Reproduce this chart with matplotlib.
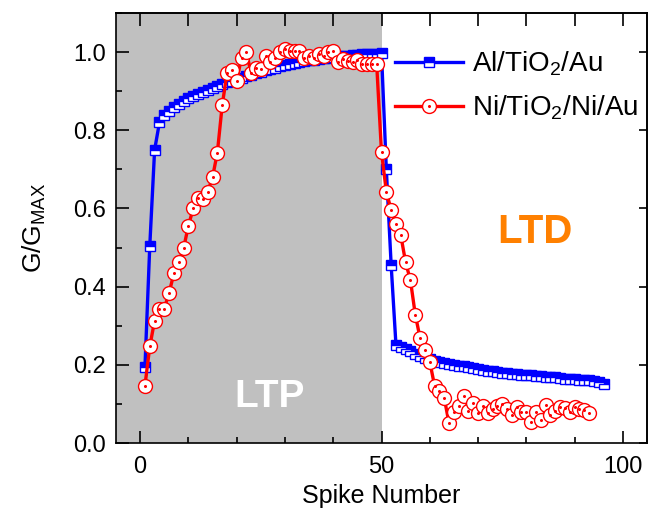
import numpy as np
import matplotlib
matplotlib.use("Agg")
import matplotlib.pyplot as plt
from matplotlib.legend_handler import HandlerTuple
from matplotlib.ticker import MultipleLocator

plt.rcParams['font.family'] = ['Liberation Sans', 'DejaVu Sans']
plt.rcParams['mathtext.fontset'] = 'custom'
plt.rcParams['mathtext.rm'] = 'Liberation Sans'
plt.rcParams['mathtext.it'] = 'Liberation Sans'

# --- data ---
al_label = "Al/TiO$_2$/Au"
ni_label = "Ni/TiO$_2$/Ni/Au"

al_g = [0.195, 0.505, 0.75, 0.82, 0.84, 0.85, 0.86, 0.868, 0.875, 0.882,
        0.888, 0.893, 0.898, 0.903, 0.908, 0.914, 0.919, 0.923, 0.927, 0.93,
        0.934, 0.938, 0.942, 0.946, 0.95, 0.954, 0.957, 0.96, 0.964, 0.967,
        0.97, 0.972, 0.974, 0.977, 0.979, 0.981, 0.983, 0.985, 0.986, 0.988,
        0.989, 0.99, 0.991, 0.992, 0.993, 0.994, 0.995, 0.996, 0.996, 0.997,
        0.70, 0.455,
        0.25, 0.245, 0.24, 0.235, 0.228, 0.223, 0.218, 0.214, 0.21, 0.207,
        0.205, 0.203, 0.2, 0.198, 0.196, 0.194, 0.191, 0.189, 0.187, 0.185,
        0.183, 0.182, 0.18, 0.178, 0.177, 0.176, 0.175, 0.174, 0.173, 0.172,
        0.171, 0.17, 0.169, 0.168, 0.167, 0.165, 0.164, 0.163, 0.162, 0.161,
        0.16, 0.158, 0.156, 0.15]

ni_g = [0.147, 0.247, 0.313, 0.344, 0.344, 0.384, 0.434, 0.462, 0.498, 0.556,
        0.60, 0.627, 0.623, 0.642, 0.68, 0.743, 0.864, 0.946, 0.955, 0.926,
        0.986, 1.0, 0.946, 0.96, 0.958, 0.99, 0.975, 0.984, 0.999, 1.008,
        1.003, 1.002, 1.003, 0.986, 0.99, 0.984, 0.995, 0.99, 1.0, 1.003,
        0.975, 0.982, 0.978, 0.975, 0.98, 0.969, 0.969, 0.97, 0.969,
        0.744, 0.643, 0.596, 0.559, 0.531, 0.462, 0.416, 0.328, 0.268, 0.237,
        0.208, 0.146, 0.132, 0.115, 0.05, 0.08, 0.095, 0.119, 0.082, 0.102,
        0.078, 0.095, 0.078, 0.086, 0.095, 0.1, 0.086, 0.072, 0.093, 0.08,
        0.08, 0.055, 0.08, 0.059, 0.097, 0.072, 0.082, 0.093, 0.089, 0.08,
        0.093, 0.086, 0.085, 0.078]

al_spike = np.arange(1, len(al_g) + 1)
ni_spike = np.arange(1, len(ni_g) + 1)
ltp_end = 50

fig = plt.figure(figsize=(6.48, 5.11), dpi=100)
ax = fig.add_axes([116 / 648, 1 - 443 / 511, 531 / 648, 430 / 511])

ax.axvspan(-5, ltp_end, color='#c0c0c0', lw=0, zorder=0)

blue_line, = ax.plot(al_spike, al_g, color='#0000ff', lw=2.4, marker='s',
                     ms=7.2, fillstyle='top', mfc='#0000ff', mfcalt='white',
                     mec='#0000ff', mew=1.0, zorder=2)
red_line, = ax.plot(ni_spike, ni_g, color='#ff0000', lw=2.4, marker='o',
                    ms=10, mfc='white', mec='#ff0000', mew=1.0, zorder=3)
red_dots, = ax.plot(ni_spike, ni_g, ls='none', marker='o', ms=1.2,
                    color='#ff0000', zorder=4)

ax.set_xlim(-5, 105)
ax.set_ylim(0, 1.1)
ax.xaxis.set_major_locator(MultipleLocator(50))
ax.xaxis.set_minor_locator(MultipleLocator(10))
ax.yaxis.set_major_locator(MultipleLocator(0.2))
ax.yaxis.set_minor_locator(MultipleLocator(0.1))
ax.yaxis.set_major_formatter(matplotlib.ticker.FormatStrFormatter('%.1f'))
ax.tick_params(which='major', direction='in', length=9, width=1.2,
               labelsize=17, pad=7)
ax.tick_params(which='minor', direction='in', length=4.5, width=1.2)
ax.tick_params(axis='x', pad=9)

# top: every 10, all the same length; right: majors only, shorter
top = ax.secondary_xaxis('top')
top.set_xticks(np.arange(0, 101, 10))
top.tick_params(direction='in', length=9, width=1.2, labeltop=False)
top.spines['top'].set_linewidth(1.2)

right = ax.secondary_yaxis('right')
right.set_yticks(np.arange(0, 1.01, 0.2))
right.tick_params(direction='in', length=6, width=1.2, labelright=False)
right.spines['right'].set_linewidth(1.2)

for s in ax.spines.values():
    s.set_linewidth(1.2)

ax.set_xlabel("Spike Number", fontsize=18, labelpad=5)
ax.set_ylabel("G/G$_{\\mathrm{MAX}}$", fontsize=19, labelpad=18)

ax.text(26.8, 0.117, "LTP", color='white', fontsize=28, fontweight='bold',
        ha='center', va='center')
ax.text(81.7, 0.541, "LTD", color='#ff8000', fontsize=29, fontweight='bold',
        ha='center', va='center')

ax.legend([blue_line, (red_line, red_dots)], [al_label, ni_label],
          handler_map={tuple: HandlerTuple(ndivide=1, pad=0)},
          loc='upper left', bbox_to_anchor=(0.505, 0.94), frameon=False,
          fontsize=20, handlelength=2.45, handletextpad=0.3,
          labelspacing=0.54, borderaxespad=0)

fig.savefig("out.png", dpi=100)
